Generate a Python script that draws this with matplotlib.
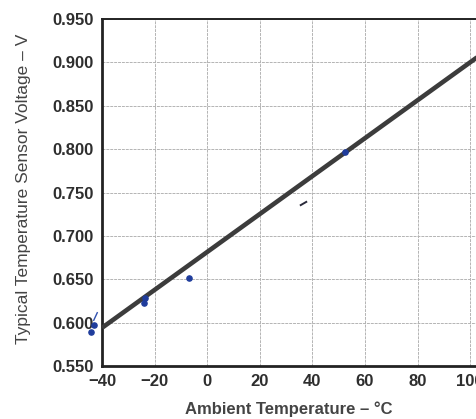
import matplotlib
matplotlib.use('Agg')
import matplotlib.pyplot as plt

# Fitted sensor curve
line_temp = [-40, 110]
line_volt = [0.594, 0.922]

# Hand-marked blue points on the scan
mark_temp = [-44, -43, -24, -23.5, -7, 52.5]
mark_volt = [0.589, 0.597, 0.623, 0.628, 0.651, 0.797]

# Small pen strokes
stroke_temp = [36.5, -42.5]
stroke_volt = [0.738, 0.608]

x_ticks = [-40, -20, 0, 20, 40, 60, 80, 100]
y_ticks = [0.550, 0.600, 0.650, 0.700, 0.750, 0.800, 0.850, 0.900, 0.950]

plt.rcParams['font.family'] = ['Liberation Sans', 'DejaVu Sans']

fig = plt.figure(figsize=(4.77, 4.19), dpi=100)
# axes run past the right edge like the cropped scan
ax = fig.add_axes([102 / 477, 53 / 419, 434 / 477, 347 / 419])

ax.plot(line_temp, line_volt, color='#3c3c3c', linewidth=3.3, solid_capstyle='butt', zorder=3)
ax.scatter(mark_temp, mark_volt, s=14, color='#1f3c9c', zorder=4, clip_on=False)
ax.plot(stroke_temp[0], stroke_volt[0], marker=(2, 0, -60), markersize=6, color='#2a2a3a',
        markeredgewidth=1.4, zorder=4)
ax.plot(stroke_temp[1], stroke_volt[1], marker=(2, 0, -25), markersize=7, color='#3050b0',
        markeredgewidth=1.0, zorder=4, clip_on=False)

ax.set_xlim(-40, 125)
ax.set_ylim(0.550, 0.950)
ax.set_xticks(x_ticks)
ax.set_yticks(y_ticks)
ax.set_yticklabels(['%.3f' % v for v in y_ticks])
ax.set_xticklabels(['\u221240', '\u221220', '0', '20', '40', '60', '80', '100'])

ax.grid(True, color='#b4b4b4', linewidth=0.7, linestyle=(0, (3, 1)))
ax.set_axisbelow(True)
ax.tick_params(length=0, pad=6, labelsize=12, colors='#2e2e2e')
for lab in ax.get_xticklabels() + ax.get_yticklabels():
    lab.set_fontweight('bold')

for side in ['left', 'bottom']:
    ax.spines[side].set_linewidth(2)
ax.spines['top'].set_linewidth(1.4)
for side in ax.spines:
    ax.spines[side].set_color('#222222')

ax.set_ylabel('Typical Temperature Sensor Voltage \u2013 V', fontsize=12.5, color='#444444')
ax.yaxis.set_label_coords(-71 / 434, 0.51)
ax.set_xlabel('Ambient Temperature \u2013 \u00b0C', fontsize=12, fontweight='bold', color='#444444')
ax.xaxis.set_label_coords(187 / 434, -35 / 347)

fig.savefig('out.png', dpi=100)
